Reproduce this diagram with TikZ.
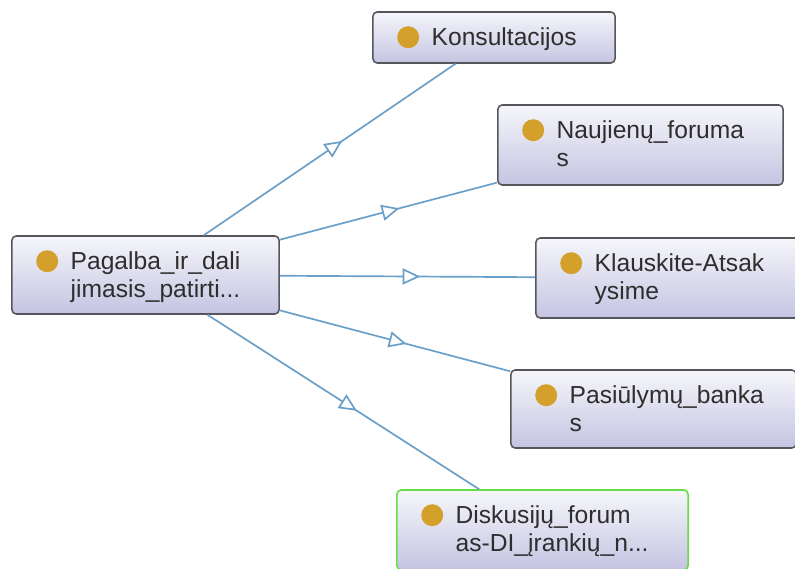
\documentclass[tikz,border=0pt]{standalone}
\usepackage{fontspec}
\setmainfont{Liberation Sans}
\usetikzlibrary{positioning,arrows.meta,decorations.markings}
\definecolor{cardline}{HTML}{55555C}
\definecolor{cardgreen}{HTML}{66DD44}
\definecolor{cardtop}{HTML}{F6F6FB}
\definecolor{cardbot}{HTML}{C4C4E2}
\definecolor{pingold}{HTML}{D4A02C}
\definecolor{linkblue}{HTML}{6A9FC8}
\tikzset{
  card/.style   = {draw=cardline, line width=1.1pt, rounded corners=3pt,
                   top color=cardtop, bottom color=cardbot, inner sep=0pt},
  gcard/.style  = {card, draw=cardgreen},
  pin/.style    = {circle, fill=pingold, inner sep=0pt, minimum size=0.55cm},
  lbl/.style    = {font=\fontsize{17.5}{20}\selectfont, text=black!82,
                   inner sep=0pt, align=left, anchor=base west},
  link/.style   = {draw=linkblue, line width=1.2pt, postaction={decorate},
                   decoration={markings, mark=at position 0.55 with
                   {\arrow{Triangle[open, fill=white, length=0.44cm, width=0.4cm]}}}},
}
\begin{document}
\begin{tikzpicture}[x=0.025cm, y=-0.025cm]
  \useasboundingbox (0,0) rectangle (795,569);
  \clip (0,0) rectangle (795,569);
  % boxes
  \node[card, minimum width=6.05cm, minimum height=1.275cm] (konsult) at (494,37.5) {};
  \node[card, minimum width=7.125cm, minimum height=2cm] (naujien) at (640.5,145) {};
  \node[card, minimum width=6.675cm, minimum height=1.95cm] (pagalba) at (145.5,275) {};
  \node[card, minimum width=7.125cm, minimum height=2cm] (klausk) at (678.5,278) {};
  \node[card, minimum width=7.125cm, minimum height=1.95cm] (pasiul) at (653.5,409) {};
  \node[gcard, minimum width=7.275cm, minimum height=2cm] (diskus) at (542.5,530) {};
  % links
  \draw[link] (pagalba) -- (konsult);
  \draw[link] (pagalba) -- (naujien);
  \draw[link] (pagalba) -- (klausk);
  \draw[link] (pagalba) -- (pasiul);
  \draw[link] (pagalba) -- (diskus);
  % dots and labels (base = last line)
  \foreach \b in {konsult,naujien,pagalba,klausk,pasiul,diskus}
    \node[pin] (\b-pin) at ([xshift=0.9cm, yshift=-0.65cm]\b.north west) {};
  \node[lbl] (konsult-txt) at ([xshift=0.58cm, yshift=-0.21cm]konsult-pin.center) {Konsultacijos};
  \node[lbl] (naujien-txt) at ([xshift=0.58cm, yshift=-0.915cm]naujien-pin.center) {Naujienų\_foruma\\s};
  \node[lbl] (pagalba-txt) at ([xshift=0.58cm, yshift=-0.915cm]pagalba-pin.center) {Pagalba\_ir\_dali\\jimasis\_patirti...};
  \node[lbl] (klausk-txt) at ([xshift=0.58cm, yshift=-0.915cm]klausk-pin.center) {Klauskite-Atsak\\ysime};
  \node[lbl] (pasiul-txt) at ([xshift=0.58cm, yshift=-0.915cm]pasiul-pin.center) {Pasiūlymų\_banka\\s};
  \node[lbl] (diskus-txt) at ([xshift=0.58cm, yshift=-0.915cm]diskus-pin.center) {Diskusijų\_forum\\as-DI\_įrankių\_n...};
\end{tikzpicture}
\end{document}
